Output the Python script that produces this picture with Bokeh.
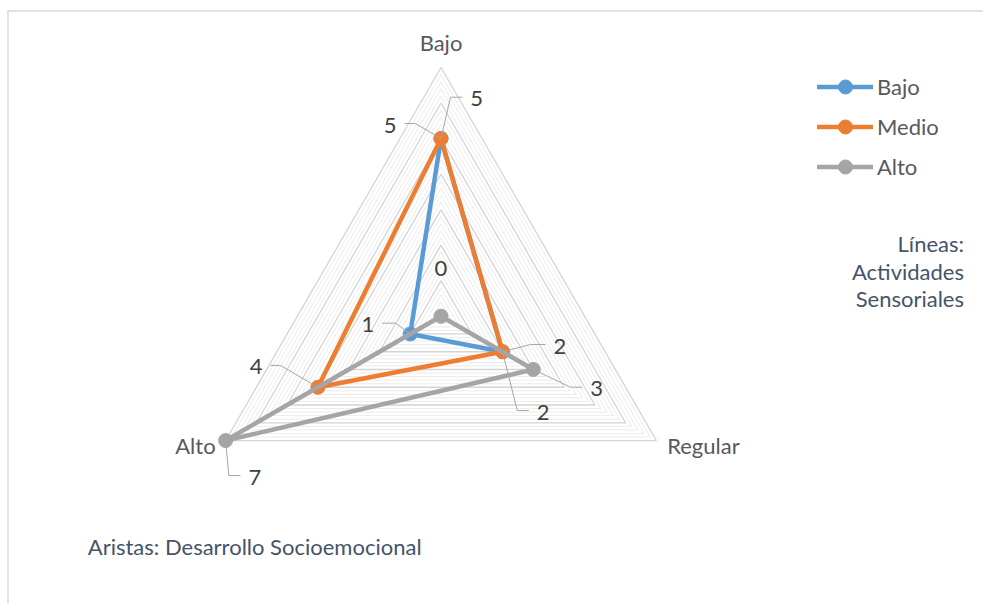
import math
import numpy as np
from bokeh.plotting import figure
from bokeh.models import Range1d, ColumnDataSource, Legend, LegendItem
from bokeh.core.properties import value
from bokeh.embed import file_html
from bokeh.resources import INLINE

# ---------------- data ----------------
axis_labels = ["Bajo", "Regular", "Alto"]          # radar spokes (clockwise from top)
series_names = ["Bajo", "Medio", "Alto"]
bajo_vals = [5, 2, 1]
medio_vals = [5, 2, 4]
alto_vals = [0, 3, 7]
scale_max = 7
major_step = 1
minor_step = 0.2
note_right = ["Líneas:", "Actividades", "Sensoriales"]
note_bottom = "Aristas: Desarrollo Socioemocional"

# ---------------- layout / style ----------------
W, H = 983, 603
FONT = "Lato"
FS = "22px"
cx, cy = 440.5, 315.7          # radar centre (px)
R = 248.7                      # radius of the max value
angles = [0, 120, 240]
colors = ["#5B9BD5", "#ED7D31", "#A5A5A5"]

def pt(v, k):
    a = math.radians(angles[k])
    r = v * R / scale_max
    return cx + r * math.sin(a), cy - r * math.cos(a)

p = figure(width=W, height=H, x_range=Range1d(0, W), y_range=Range1d(H, 0),
           output_backend="svg", toolbar_location=None, min_border=0,
           background_fill_color="white", border_fill_color="white",
           outline_line_color=None)
p.axis.visible = False
p.grid.visible = False

# chart area border (top + left)
p.line([7.5, 7.5, W], [H, 10.5, 10.5], line_color="#d9d9d9", line_width=1.5)

# ---------------- grid ----------------
levels = np.arange(minor_step, scale_max + 1e-9, minor_step)
minor_xs, minor_ys, major_xs, major_ys = [], [], [], []
for lv in levels:
    pts = [pt(lv, k) for k in range(3)] + [pt(lv, 0)]
    xs = [q[0] for q in pts]
    ys = [q[1] for q in pts]
    if abs(lv - round(lv)) < 1e-6:
        major_xs.append(xs); major_ys.append(ys)
    else:
        minor_xs.append(xs); minor_ys.append(ys)
p.multi_line(minor_xs, minor_ys, line_color="#ebebeb", line_width=1)
p.multi_line(major_xs, major_ys, line_color="#d4d4d4", line_width=1.3)

# axis category labels
ax_off = [(0, -25.5, "center"), (10.8, 4.7, "left"), (-10, 5, "right")]
for k, lab in enumerate(axis_labels):
    vx, vy = pt(scale_max, k)
    dx, dy, al = ax_off[k]
    p.text([vx + dx], [vy + dy], text=[lab], text_font=value(FONT),
           text_font_size=FS, text_color="#595959",
           text_align=al, text_baseline="middle")

# ---------------- series ----------------
series_vals = [bajo_vals, medio_vals, alto_vals]
legend_items = []
for name, vals, col in zip(series_names, series_vals, colors):
    xs = [pt(v, k)[0] for k, v in enumerate(vals)]
    ys = [pt(v, k)[1] for k, v in enumerate(vals)]
    loop = ColumnDataSource(dict(x=xs + [xs[0]], y=ys + [ys[0]]))
    ln = p.line("x", "y", source=loop, line_color=col, line_width=4.5,
                line_join="round", line_cap="round")
    sc = p.scatter(xs, ys, size=14, fill_color=col, line_color=col)
    legend_items.append(LegendItem(label=name, renderers=[ln, sc]))

# ---------------- data labels with leader lines ----------------
# per series, per axis: (side, elbow_dx, elbow_dy, end_dx, end_dy)
label_layout = [
    [("left", -25.5, -15, -36.5, -15), ("right", 14.7, 58.8, 26.3, 58.8), ("left", -14.7, -10.8, -28, -10.8)],
    [("right", 9.5, -41.3, 21.2, -41.3), ("right", 28, -7.2, 43, -7.2), ("left", -37.4, -21.8, -47.4, -21.8)],
    [("plain", 0, -47.7, 0, -47.7), ("right", 37.2, 17.7, 48.9, 17.7), ("right", 3.2, 35, 15, 35)],
]
gap = 8
lead_xs, lead_ys = [], []
tx, ty, tt, ta = [], [], [], []
for s, vals in enumerate(series_vals):
    for k, v in enumerate(vals):
        px, py = pt(v, k)
        side, ex, ey, fx, fy = label_layout[s][k]
        if side == "plain":
            tx.append(px + fx); ty.append(py + fy); ta.append("center")
        else:
            lead_xs.append([px, px + ex, px + fx])
            lead_ys.append([py, py + ey, py + fy])
            if side == "left":
                tx.append(px + fx - gap); ta.append("right")
            else:
                tx.append(px + fx + gap); ta.append("left")
            ty.append(py + fy + 1.5)
        tt.append(str(v))
p.multi_line(lead_xs, lead_ys, line_color="#a6a6a6", line_width=1)
p.text(x="x", y="y", text="t", text_align="a",
       source=ColumnDataSource(dict(x=tx, y=ty, t=tt, a=ta)),
       text_font=value(FONT), text_font_size=FS, text_color="#404040",
       text_baseline="middle")

# ---------------- notes ----------------
p.text([963.5] * 3, [243.3 + 27.4 * i for i in range(3)], text=note_right,
       text_font=value(FONT), text_font_size=FS, text_color="#44546A",
       text_align="right", text_baseline="middle")
p.text([87.3], [545.8], text=[note_bottom], text_font=value(FONT),
       text_font_size=FS, text_color="#44546A",
       text_align="left", text_baseline="middle")

# ---------------- legend ----------------
legend = Legend(items=legend_items, location=(817, 419), orientation="vertical",
                glyph_width=56, glyph_height=35, label_height=35, spacing=5,
                label_standoff=4, padding=0, margin=0, border_line_color=None,
                background_fill_alpha=0, label_text_font=FONT,
                label_text_font_size=FS, label_text_color="#595959")
p.add_layout(legend)

open("out.html", "w").write(file_html(p, INLINE))
